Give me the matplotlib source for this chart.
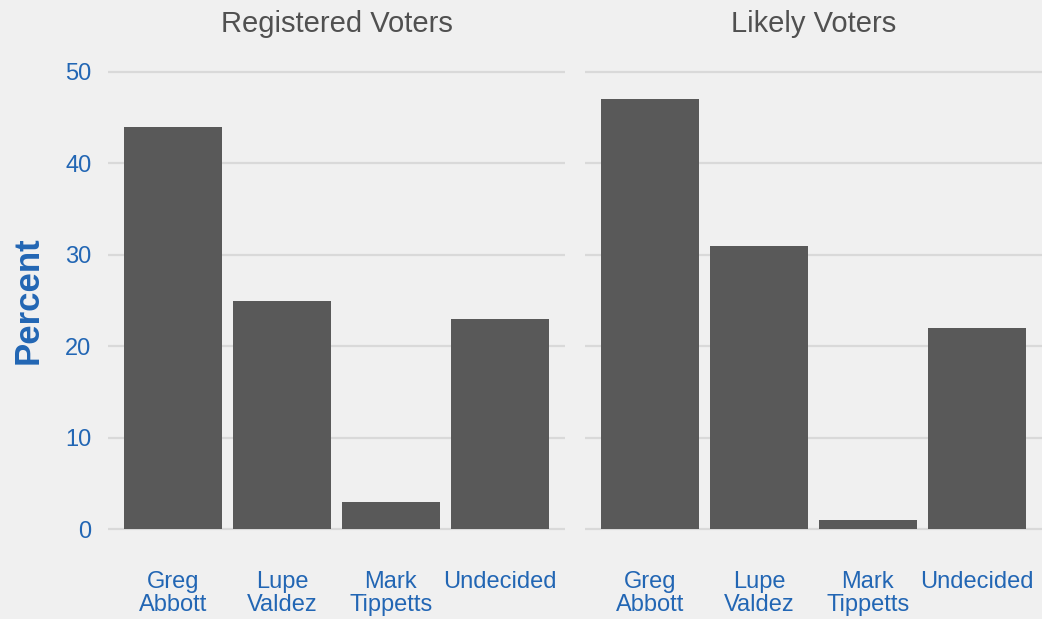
import numpy as np
import matplotlib.pyplot as plt

plt.rcParams['font.family'] = ['Liberation Sans', 'DejaVu Sans']

candidates = ['Greg\nAbbott', 'Lupe\nValdez', 'Mark\nTippetts', 'Undecided']
registered = [44, 25, 3, 23]
likely = [47, 31, 1, 22]
panels = ['Registered Voters', 'Likely Voters']
yticks = [0, 10, 20, 30, 40, 50]

bg = '#F0F0F0'
blue = '#2266B4'
bar_col = '#595959'

fig = plt.figure(figsize=(10.42, 6.19), dpi=100, facecolor=bg)
ax1 = fig.add_axes([108/1042, 1-552/619, 457/1042, 503/619])
ax2 = fig.add_axes([585/1042, 1-552/619, 457/1042, 503/619])

x = np.arange(len(candidates))
for ax, vals, title in zip([ax1, ax2], [registered, likely], panels):
    ax.set_facecolor(bg)
    ax.bar(x, vals, width=0.9, color=bar_col, zorder=2)
    ax.set_xlim(-0.6, len(candidates) - 0.4)
    ax.set_ylim(-2.5, 52.5)
    ax.set_yticks(yticks)
    ax.yaxis.grid(True, color='#D9D9D9', linewidth=1.6, zorder=0)
    ax.set_axisbelow(True)
    for s in ax.spines.values():
        s.set_visible(False)
    ax.set_xticks(x)
    ax.set_xticklabels(candidates, color=blue, fontsize=17, linespacing=1.05)
    ax.tick_params(axis='both', length=0)
    ax.tick_params(axis='x', pad=13.5)
    ax.set_title(title, fontsize=21, color='#505050', pad=12)

ax1.set_yticklabels([str(v) for v in yticks], color=blue, fontsize=17)
ax1.tick_params(axis='y', pad=12)
ax1.set_ylabel('Percent', fontsize=25, fontweight='bold', color=blue, labelpad=15)
ax2.set_yticklabels([])

fig.savefig('out.png', dpi=100, facecolor=bg)
